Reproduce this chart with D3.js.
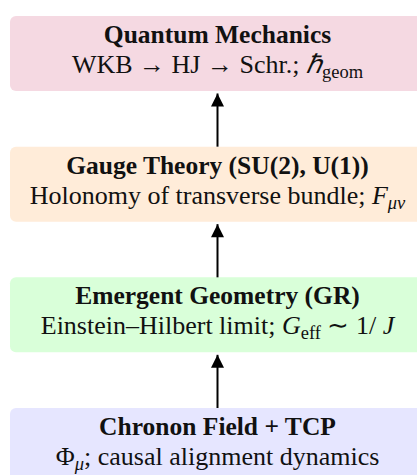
<!DOCTYPE html>
<html>
<head>
<meta charset="utf-8">
<script src="https://cdn.jsdelivr.net/npm/d3@7"></script>
<style>
  html, body { margin: 0; padding: 0; background: #fff; }
  svg { display: block; }
</style>
</head>
<body>
<svg id="chart" width="417" height="475"></svg>
<script>
// Layers, listed top to bottom
const layers = ["Quantum Mechanics", "Gauge Theory (SU(2), U(1))", "Emergent Geometry (GR)", "Chronon Field + TCP"];
const fills = ["#f5d9e2", "#ffecd9", "#d9ffd9", "#e6e6ff"];
// Subtitles as rich-text segments: i = italic, sub = subscript
const subtitles = [
  [{t: "WKB \u2192 HJ \u2192 Schr.; "}, {t: "\u210F", i: true}, {t: "geom", sub: true}],
  [{t: "Holonomy of transverse bundle; "}, {t: "F", i: true}, {t: "\u03BC\u03BD", i: true, sub: true}],
  [{t: "Einstein\u2013Hilbert limit; "}, {t: "G", i: true}, {t: "eff", sub: true}, {t: " \u223C 1/ "}, {t: "J", i: true}],
  [{t: "\u03A6"}, {t: "\u03BC", i: true, sub: true}, {t: "; causal alignment dynamics"}]
];
// Arrows: from lower layer up to upper layer
const links = [[3, 2], [2, 1], [1, 0]];

const svg = d3.select("#chart");
const W = 417, H = 475;
const cx = 217.5;
const boxW = 415;

const y = d3.scaleBand().domain(layers).range([16, 483]).paddingInner(0.426).paddingOuter(0);
const font = "'Liberation Serif', 'Times New Roman', serif";

const defs = svg.append("defs");
defs.append("marker")
  .attr("id", "head")
  .attr("viewBox", "0 0 10 10")
  .attr("refX", 10).attr("refY", 5)
  .attr("markerUnits", "userSpaceOnUse")
  .attr("markerWidth", 17).attr("markerHeight", 13)
  .attr("orient", "auto")
  .append("path").attr("d", "M0,0 L10,5 L0,10 Z").attr("fill", "#000");

const g = svg.append("g").selectAll("g").data(layers).join("g")
  .attr("transform", d => `translate(0,${y(d)})`);

g.append("rect")
  .attr("x", cx - boxW / 2).attr("y", 0)
  .attr("width", boxW).attr("height", y.bandwidth())
  .attr("rx", 6).attr("ry", 6)
  .attr("fill", (d, i) => fills[i]);

g.append("text")
  .attr("x", cx).attr("y", 27)
  .attr("text-anchor", "middle")
  .attr("font-family", font)
  .attr("font-weight", "bold")
  .attr("font-size", 25.5)
  .attr("fill", "#111")
  .text(d => d);

g.append("text")
  .attr("x", cx).attr("y", 57)
  .attr("text-anchor", "middle")
  .attr("font-family", font)
  .attr("font-size", 26)
  .attr("fill", "#111")
  .each(function(d, i) {
    const t = d3.select(this);
    let inSub = false;
    subtitles[i].forEach(seg => {
      const ts = t.append("tspan").text(seg.t);
      if (seg.i) ts.attr("font-style", "italic");
      if (seg.sub && !inSub) { ts.attr("dy", 5).attr("font-size", 18.5); inSub = true; }
      else if (seg.sub) { ts.attr("font-size", 18.5); }
      else if (!seg.sub && inSub) { ts.attr("dy", -5); inSub = false; }
    });
  });

svg.append("g").selectAll("line").data(links).join("line")
  .attr("x1", cx).attr("x2", cx)
  .attr("y1", d => y(layers[d[0]]))
  .attr("y2", d => y(layers[d[1]]) + y.bandwidth() + 2.5)
  .attr("stroke", "#000")
  .attr("stroke-width", 2)
  .attr("marker-end", "url(#head)");
</script>
</body>
</html>
